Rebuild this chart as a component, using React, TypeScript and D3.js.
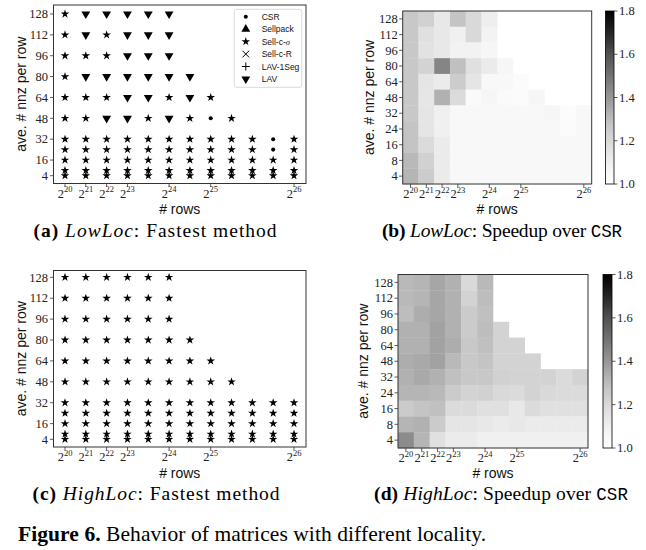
import React from "react";
import * as d3 from "d3";

// ---------------- data ----------------
const rowIndex = [0, 1, 2, 3, 4, 5, 6, 7, 8, 9, 10, 11];
const xTickIndex = [0, 1, 2, 3, 5, 7, 11];
const xTickExp = ["20", "21", "22", "23", "24", "25", "26"];
const nnzValues = [128, 112, 96, 80, 64, 48, 32, 24, 16, 8, 4]; // top to bottom
const scatterYTicks = [4, 16, 32, 48, 64, 80, 96, 112, 128];
const heatYTicks = [4, 8, 16, 24, 32, 48, 64, 80, 96, 112, 128];
const colorbarTicks = [1.0, 1.2, 1.4, 1.6, 1.8];

const methodNames = ["CSR", "Sellpack", "Sell-c-", "Sell-c-R", "LAV-1Seg", "LAV"];
const methodCodes = ["C", "P", "S", "R", "1", "V"];

// fastest method per (nnz row, #rows column); C=CSR, S=Sell-c-sigma, V=LAV
const lowLocFastest = [
  ["S", "V", "V", "V", "V", "V"],
  ["S", "V", "S", "V", "V", "V"],
  ["S", "S", "S", "V", "V", "V"],
  ["S", "V", "V", "V", "V", "V", "V"],
  ["S", "S", "S", "V", "V", "S", "V", "S"],
  ["S", "S", "V", "V", "S", "V", "S", "C", "S"],
  ["S", "S", "S", "S", "S", "S", "S", "S", "S", "S", "C", "S"],
  ["S", "S", "S", "S", "S", "S", "S", "S", "S", "S", "C", "S"],
  ["S", "S", "S", "S", "S", "S", "S", "S", "S", "S", "S", "S"],
  ["S", "S", "S", "S", "S", "S", "S", "S", "S", "S", "S", "S"],
  ["S", "S", "S", "S", "S", "S", "S", "S", "S", "S", "S", "S"],
];
const highLocFastest = [
  ["S", "S", "S", "S", "S", "S"],
  ["S", "S", "S", "S", "S", "S"],
  ["S", "S", "S", "S", "S", "S"],
  ["S", "S", "S", "S", "S", "S", "S"],
  ["S", "S", "S", "S", "S", "S", "S", "S"],
  ["S", "S", "S", "S", "S", "S", "S", "S", "S"],
  ["S", "S", "S", "S", "S", "S", "S", "S", "S", "S", "S", "S"],
  ["S", "S", "S", "S", "S", "S", "S", "S", "S", "S", "S", "S"],
  ["S", "S", "S", "S", "S", "S", "S", "S", "S", "S", "S", "S"],
  ["S", "S", "S", "S", "S", "S", "S", "S", "S", "S", "S", "S"],
  ["S", "S", "S", "S", "S", "S", "S", "S", "S", "S", "S", "S"],
];

// speedup over CSR (rows top->bottom = nnzValues)
const lowLocSpeedup = [
  [1.26, 1.23, 1.135, 1.275, 1.2, 1.11],
  [1.26, 1.17, 1.135, 1.1, 1.2, 1.08],
  [1.26, 1.16, 1.135, 1.09, 1.09, 1.06],
  [1.26, 1.22, 1.45, 1.29, 1.17, 1.12, 1.06],
  [1.26, 1.15, 1.12, 1.245, 1.15, 1.05, 1.05, 1.03],
  [1.26, 1.145, 1.33, 1.19, 1.035, 1.06, 1.035, 1.025, 1.06],
  [1.26, 1.15, 1.1, 1.05, 1.05, 1.05, 1.05, 1.05, 1.05, 1.06, 1.02, 1.05],
  [1.275, 1.15, 1.1, 1.05, 1.05, 1.05, 1.05, 1.05, 1.05, 1.05, 1.03, 1.05],
  [1.275, 1.19, 1.12, 1.05, 1.05, 1.05, 1.05, 1.05, 1.05, 1.05, 1.05, 1.05],
  [1.31, 1.23, 1.12, 1.05, 1.05, 1.05, 1.05, 1.05, 1.05, 1.05, 1.05, 1.05],
  [1.32, 1.245, 1.12, 1.045, 1.045, 1.045, 1.045, 1.045, 1.045, 1.045, 1.045, 1.045],
];
const highLocSpeedup = [
  [1.31, 1.32, 1.36, 1.33, 1.2, 1.31],
  [1.31, 1.32, 1.36, 1.33, 1.22, 1.3],
  [1.3, 1.34, 1.36, 1.33, 1.25, 1.29],
  [1.33, 1.33, 1.37, 1.33, 1.25, 1.3, 1.22],
  [1.33, 1.33, 1.37, 1.34, 1.26, 1.29, 1.22, 1.22],
  [1.34, 1.35, 1.37, 1.31, 1.26, 1.275, 1.22, 1.22, 1.22],
  [1.33, 1.35, 1.33, 1.29, 1.26, 1.26, 1.23, 1.22, 1.22, 1.22, 1.19, 1.22],
  [1.32, 1.32, 1.31, 1.25, 1.22, 1.23, 1.2, 1.19, 1.22, 1.2, 1.19, 1.19],
  [1.25, 1.275, 1.29, 1.19, 1.19, 1.17, 1.17, 1.135, 1.19, 1.17, 1.17, 1.17],
  [1.32, 1.33, 1.25, 1.15, 1.15, 1.135, 1.12, 1.135, 1.12, 1.12, 1.12, 1.12],
  [1.43, 1.32, 1.17, 1.12, 1.12, 1.1, 1.1, 1.1, 1.1, 1.1, 1.1, 1.1],
];

const greysStops = ["#ffffff", "#f0f0f0", "#d9d9d9", "#bdbdbd", "#969696", "#737373", "#525252", "#252525", "#000000"];

// ---------------- styling ----------------
const SERIF = "'Liberation Serif', 'DejaVu Serif', serif";
const SANS = "'Liberation Sans', Arial, sans-serif";
const MONO = "'Liberation Mono', 'DejaVu Sans Mono', monospace";
const FRAME = "#333";

const greyInterp = d3.piecewise(d3.interpolateRgb, greysStops);
const color = d3.scaleSequential(greyInterp).domain([1.0, 1.8]);

function markerPath(code: string): { d: string; fill: boolean; rotate?: number } {
  if (code === "S") return { d: d3.symbol(d3.symbolStar, 23)() as string, fill: true };
  if (code === "V") return { d: d3.symbol(d3.symbolTriangle, 34)() as string, fill: true, rotate: 180 };
  if (code === "P") return { d: d3.symbol(d3.symbolTriangle, 34)() as string, fill: true };
  if (code === "C") return { d: d3.symbol(d3.symbolCircle, 13)() as string, fill: true };
  if (code === "R") return { d: "M-3.3,-3.3L3.3,3.3M-3.3,3.3L3.3,-3.3", fill: false };
  return { d: "M-4,0L4,0M0,-4L0,4", fill: false };
}

function Marker({ code, x, y }: { code: string; x: number; y: number }) {
  const m = markerPath(code);
  return (
    <path
      d={m.d}
      transform={`translate(${x},${y})${m.rotate ? ` rotate(${m.rotate})` : ""}`}
      fill={m.fill ? "#000" : "none"}
      stroke="#000"
      strokeWidth={m.fill ? 0 : 1}
    />
  );
}

function PowLabel({ x, y, exp }: { x: number; y: number; exp: string }) {
  return (
    <text x={x} y={y} textAnchor="middle" fontFamily={SERIF} fontSize={12.5} fill="#222">
      2
      <tspan fontSize={8.5} dy={-5.5}>
        {exp}
      </tspan>
    </text>
  );
}

type ScatterProps = {
  data: string[][];
  fx0: number; fx1: number; fy0: number; fy1: number;
  px0: number; px1: number; py4: number; py128: number;
  ylabelX: number; xlabelY: number; legend?: boolean;
};

function Scatter(p: ScatterProps) {
  const x = d3.scaleLinear().domain([0, 11]).range([p.px0, p.px1]);
  const y = d3.scaleLinear().domain([4, 128]).range([p.py4, p.py128]);
  const pts: { code: string; xi: number; v: number }[] = [];
  p.data.forEach((row, ri) => row.forEach((code, ci) => pts.push({ code, xi: rowIndex[ci], v: nnzValues[ri] })));
  const legendY0 = p.fy0 + 11.7;
  const legendStep = 12.45;
  return (
    <g>
      {pts.map((d, i) => (
        <Marker key={i} code={d.code} x={x(d.xi)} y={y(d.v)} />
      ))}
      <rect x={p.fx0} y={p.fy0} width={p.fx1 - p.fx0} height={p.fy1 - p.fy0} fill="none" stroke={FRAME} strokeWidth={1} />
      {scatterYTicks.map((t) => (
        <g key={t}>
          <line x1={p.fx0 - 3.5} x2={p.fx0} y1={y(t)} y2={y(t)} stroke={FRAME} strokeWidth={0.8} />
          <text x={p.fx0 - 5.5} y={y(t) + 4.2} textAnchor="end" fontFamily={SERIF} fontSize={12.5} fill="#222">
            {t}
          </text>
        </g>
      ))}
      {xTickIndex.map((t, i) => (
        <g key={t}>
          <line x1={x(t)} x2={x(t)} y1={p.fy1} y2={p.fy1 + 3.5} stroke={FRAME} strokeWidth={0.8} />
          <PowLabel x={x(t)} y={p.fy1 + 14} exp={xTickExp[i]} />
        </g>
      ))}
      <text
        transform={`translate(${p.ylabelX},${(p.fy0 + p.fy1) / 2}) rotate(-90)`}
        textAnchor="middle"
        fontFamily={SANS}
        fontSize={14}
        fill="#111"
      >
        ave. # nnz per row
      </text>
      <text x={(p.fx0 + p.fx1) / 2} y={p.xlabelY} textAnchor="middle" fontFamily={SANS} fontSize={14} fill="#111">
        # rows
      </text>
      {p.legend && (
        <g>
          <rect x={234.3} y={p.fy0 + 4.3} width={67.5} height={78} rx={2.5} fill="#fff" fillOpacity={0.85} stroke="#d0d0d0" strokeWidth={0.8} />
          {methodNames.map((name, i) => (
            <g key={name}>
              <Marker code={methodCodes[i]} x={245.8} y={legendY0 + i * legendStep} />
              <text x={261.7} y={legendY0 + i * legendStep + 3} fontFamily={SANS} fontSize={8.5} fill="#111">
                {name}
                {i === 2 && <tspan fontFamily={SERIF} fontStyle="italic">σ</tspan>}
              </text>
            </g>
          ))}
        </g>
      )}
    </g>
  );
}

type HeatProps = {
  data: number[][];
  fx0: number; fx1: number; fy0: number; fy1: number;
  cbx0: number; cbx1: number; ylabelX: number; xlabelY: number; gid: string;
};

function Heatmap(p: HeatProps) {
  const x = d3.scaleBand<number>().domain(rowIndex).range([p.fx0, p.fx1]);
  const y = d3.scaleBand<number>().domain(nnzValues).range([p.fy0, p.fy1]);
  const cb = d3.scaleLinear().domain([1.0, 1.8]).range([p.fy1, p.fy0]);
  const stops = d3.range(0, 1.0001, 0.05);
  return (
    <g>
      <defs>
        <linearGradient id={p.gid} x1="0" y1="1" x2="0" y2="0">
          {stops.map((s) => (
            <stop key={s} offset={s} stopColor={color(1 + 0.8 * s)} />
          ))}
        </linearGradient>
      </defs>
      {p.data.map((row, ri) =>
        row.map((v, ci) => (
          <rect
            key={`${ri}-${ci}`}
            x={x(rowIndex[ci])}
            y={y(nnzValues[ri])}
            width={x.bandwidth() + 0.3}
            height={y.bandwidth() + 0.3}
            fill={color(v)}
          />
        ))
      )}
      <rect x={p.fx0} y={p.fy0} width={p.fx1 - p.fx0} height={p.fy1 - p.fy0} fill="none" stroke={FRAME} strokeWidth={1} />
      {heatYTicks.map((t) => {
        const yy = (y(t) as number) + y.bandwidth() / 2;
        return (
          <g key={t}>
            <line x1={p.fx0 - 3.5} x2={p.fx0} y1={yy} y2={yy} stroke={FRAME} strokeWidth={0.8} />
            <text x={p.fx0 - 5} y={yy + 4.2} textAnchor="end" fontFamily={SERIF} fontSize={12.5} fill="#222">
              {t}
            </text>
          </g>
        );
      })}
      {xTickIndex.map((t, i) => {
        const xx = (x(t) as number) + x.bandwidth() / 2;
        return (
          <g key={t}>
            <line x1={xx} x2={xx} y1={p.fy1} y2={p.fy1 + 3.5} stroke={FRAME} strokeWidth={0.8} />
            <PowLabel x={xx} y={p.fy1 + 14} exp={xTickExp[i]} />
          </g>
        );
      })}
      <text
        transform={`translate(${p.ylabelX},${(p.fy0 + p.fy1) / 2}) rotate(-90)`}
        textAnchor="middle"
        fontFamily={SANS}
        fontSize={14}
        fill="#111"
      >
        ave. # nnz per row
      </text>
      <text x={(p.fx0 + p.fx1) / 2} y={p.xlabelY} textAnchor="middle" fontFamily={SANS} fontSize={14} fill="#111">
        # rows
      </text>
      {/* colorbar */}
      <rect x={p.cbx0} y={p.fy0} width={p.cbx1 - p.cbx0} height={p.fy1 - p.fy0} fill={`url(#${p.gid})`} stroke="#000" strokeWidth={0.8} />
      {colorbarTicks.map((t) => (
        <g key={t}>
          <line x1={p.cbx1} x2={p.cbx1 + 3.5} y1={cb(t)} y2={cb(t)} stroke={FRAME} strokeWidth={0.8} />
          <text x={p.cbx1 + 5} y={cb(t) + 4.2} fontFamily={SERIF} fontSize={12.5} fill="#222">
            {t.toFixed(1)}
          </text>
        </g>
      ))}
    </g>
  );
}

function SubCaption({ x, y, w, label, loc, rest, mono }: { x: number; y: number; w: number; label: string; loc: string; rest: string; mono?: string }) {
  return (
    <text x={x} y={y} textAnchor="middle" fontFamily={SERIF} fontSize={19.5} fill="#000" textLength={w}>
      <tspan fontWeight="bold">{label}</tspan> <tspan fontStyle="italic">{loc}</tspan>
      {rest}
      {mono && <tspan fontFamily={MONO} fontSize={17.5}>{mono}</tspan>}
    </text>
  );
}

export default function App() {
  return (
    <svg
      width={646}
      height={550}
      viewBox="0 0 646 550"
      style={{ position: "absolute", left: 0, top: 0, background: "#fff" }}
    >
      <rect width={646} height={550} fill="#fff" />
      <Scatter
        data={lowLocFastest}
        fx0={53.5} fx1={306} fy0={5} fy1={183.5}
        px0={65} px1={294} py4={175.7} py128={14}
        ylabelX={26} xlabelY={214} legend
      />
      <Heatmap
        data={lowLocSpeedup}
        fx0={402.7} fx1={591.7} fy0={11} fy1={184}
        cbx0={605.5} cbx1={614} ylabelX={374} xlabelY={214} gid="cbB"
      />
      <Scatter
        data={highLocFastest}
        fx0={53.5} fx1={306} fy0={270.5} fy1={447}
        px0={65} px1={294} py4={439.3} py128={277.3}
        ylabelX={26} xlabelY={478}
      />
      <Heatmap
        data={highLocSpeedup}
        fx0={398} fx1={588} fy0={274.5} fy1={448}
        cbx0={603} cbx1={612} ylabelX={368} xlabelY={478} gid="cbD"
      />
      <SubCaption x={155} y={237} w={243} label="(a)" loc="LowLoc" rest=": Fastest method" />
      <SubCaption x={502} y={237} w={240} label="(b)" loc="LowLoc" rest=": Speedup over " mono="CSR" />
      <SubCaption x={156} y={500} w={247} label="(c)" loc="HighLoc" rest=": Fastest method" />
      <SubCaption x={501} y={500} w={254} label="(d)" loc="HighLoc" rest=": Speedup over " mono="CSR" />
      <text x={18} y={541} fontFamily={SERIF} fontSize={21.5} fill="#000" textLength={468}>
        <tspan fontWeight="bold">Figure 6.</tspan> Behavior of matrices with different locality.
      </text>
    </svg>
  );
}
